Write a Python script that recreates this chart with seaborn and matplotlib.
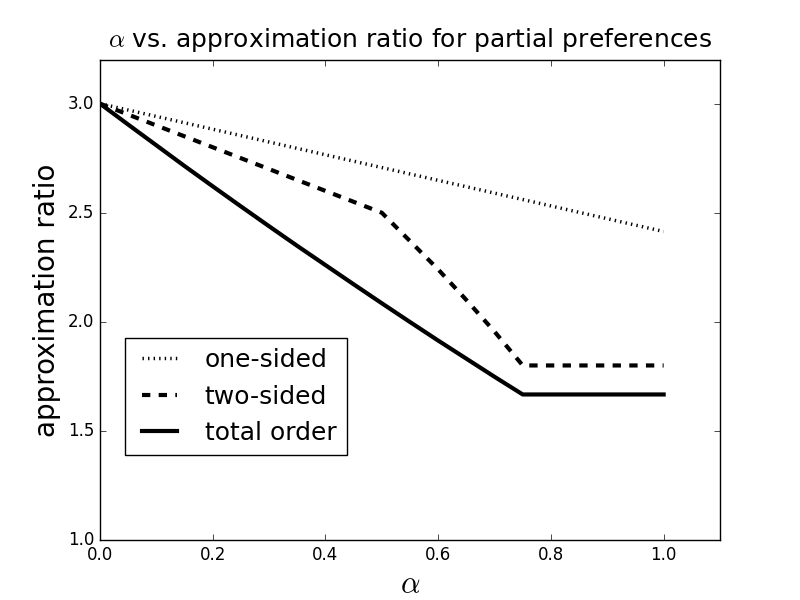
import numpy as np
import pandas as pd
import matplotlib
matplotlib.use("Agg")
import matplotlib.pyplot as plt
import seaborn as sns

plt.style.use("classic")

# one-sided: straight line
one_x = [0.0, 1.0]
one_y = [3.0, 2.414]

# two-sided
two_x = [0.0, 0.25, 0.5, 0.55, 0.6, 0.65, 0.7, 0.75, 1.0]
two_y = [3.0, 2.75, 2.5, 2.37, 2.24, 2.10, 1.955, 1.8, 1.8]

# total order
tot_x = [0.0, 0.05, 0.1, 0.15, 0.2, 0.25, 0.3, 0.35, 0.4, 0.45, 0.5,
         0.55, 0.6, 0.65, 0.7, 0.75, 1.0]
tot_y = [3.0, 2.904, 2.809, 2.714, 2.621, 2.529, 2.438, 2.348, 2.260, 2.172,
         2.085, 1.999, 1.914, 1.831, 1.748, 1.667, 1.667]

fig, ax = plt.subplots(figsize=(8, 6), dpi=100)

sns.lineplot(x=one_x, y=one_y, ax=ax, color="black", linestyle=":", linewidth=2.5,
             label="one-sided", sort=False)
sns.lineplot(x=two_x, y=two_y, ax=ax, color="black", linestyle="--", linewidth=3,
             label="two-sided", sort=False)
sns.lineplot(x=tot_x, y=tot_y, ax=ax, color="black", linestyle="-", linewidth=3,
             label="total order", sort=False)

ax.set_xlim(0, 1.1)
ax.set_ylim(1.0, 3.2)
ax.set_xticks([0.0, 0.2, 0.4, 0.6, 0.8, 1.0])
ax.set_yticks([1.0, 1.5, 2.0, 2.5, 3.0])
ax.tick_params(labelsize=12)

ax.set_title(r"$\alpha$ vs. approximation ratio for partial preferences",
             fontsize=18, pad=9)
ax.set_xlabel(r"$\alpha$", fontsize=22)
ax.set_ylabel("approximation ratio", fontsize=20)

ax.legend(loc="lower left", bbox_to_anchor=(0.04, 0.177), fontsize=18,
          handlelength=2, borderaxespad=0)

fig.savefig("out.png", dpi=100)
